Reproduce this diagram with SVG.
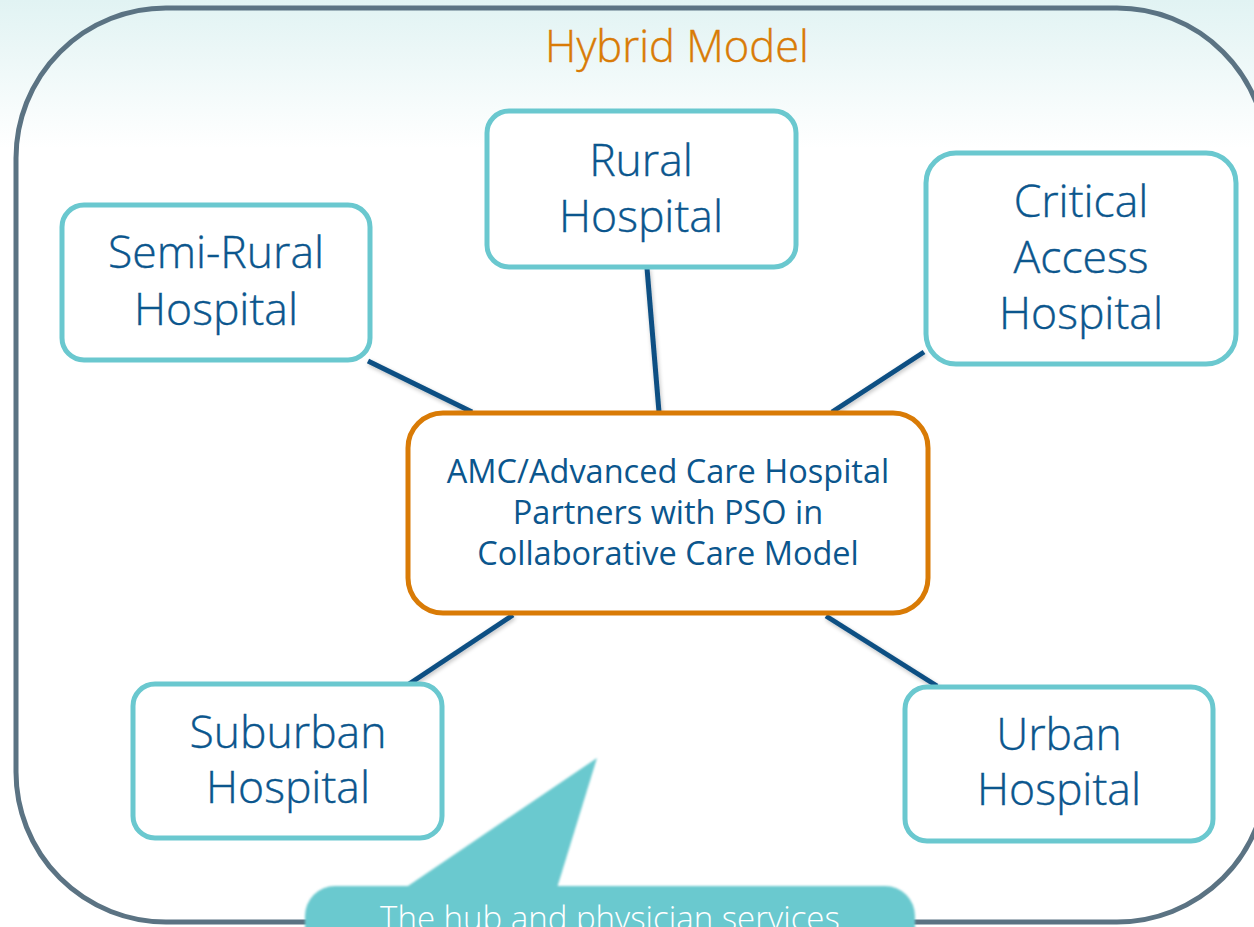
<svg xmlns="http://www.w3.org/2000/svg" width="1254" height="927" viewBox="0 0 1254 927">
  <defs>
    <linearGradient id="bg" x1="0" y1="0" x2="0" y2="1">
      <stop offset="0" stop-color="#e1f3f3"/>
      <stop offset="0.16" stop-color="#ffffff"/>
      <stop offset="1" stop-color="#ffffff"/>
    </linearGradient>
    <filter id="soft" x="-5%" y="-5%" width="110%" height="110%">
      <feGaussianBlur stdDeviation="0.8"/>
    </filter>
    <filter id="lshadow" x="-20%" y="-20%" width="140%" height="140%">
      <feGaussianBlur in="SourceAlpha" stdDeviation="2"/>
      <feOffset dx="1" dy="2" result="b"/>
      <feComponentTransfer><feFuncA type="linear" slope="0.25"/></feComponentTransfer>
      <feMerge><feMergeNode/><feMergeNode in="SourceGraphic"/></feMerge>
    </filter>
  </defs>
  <style>
    .node { fill: #ffffff; stroke: #6ac8cf; stroke-width: 5; }
    .hub { fill: #ffffff; stroke: #d97b06; stroke-width: 5; }
    .lbl { font-family: "Open Sans", "Liberation Sans", sans-serif; font-size: 44.5px; font-weight: 300; fill: #0b568d; text-anchor: middle; stroke: #0b568d; stroke-width: 0.4; }
    .hubl { font-family: "Open Sans", "Liberation Sans", sans-serif; font-size: 32.5px; fill: #0b568d; text-anchor: middle; }
    .conn { stroke: #0b4f83; stroke-width: 5; fill: none; }
    .title { font-family: "Open Sans", "Liberation Sans", sans-serif; font-size: 43.5px; font-weight: 300; fill: #d97b06; text-anchor: middle; stroke: #d97b06; stroke-width: 0.4; }
    .callt { font-family: "Open Sans", "Liberation Sans", sans-serif; font-size: 33px; font-weight: 300; fill: #ffffff; text-anchor: middle; }
  </style>

  <rect x="0" y="0" width="1254" height="927" fill="url(#bg)"/>

  <g id="frame">
    <rect x="16" y="8" width="1251" height="914" rx="150" ry="150" fill="none" stroke="#5b7383" stroke-width="5"/>
    <text class="title" x="677" y="62">Hybrid Model</text>
  </g>

  <g id="connectors" filter="url(#lshadow)">
    <line class="conn" x1="368" y1="361" x2="472" y2="412"/>
    <line class="conn" x1="647" y1="268" x2="659" y2="412"/>
    <line class="conn" x1="924" y1="352" x2="832" y2="412"/>
    <line class="conn" x1="513" y1="615" x2="409" y2="684"/>
    <line class="conn" x1="826" y1="616" x2="937" y2="686"/>
  </g>

  <g id="semi-rural">
    <rect class="node" x="62" y="205" width="308" height="155" rx="22"/>
    <text class="lbl" x="216" y="268">Semi-Rural</text>
    <text class="lbl" x="216" y="325">Hospital</text>
  </g>

  <g id="rural">
    <rect class="node" x="487" y="111" width="309" height="156" rx="22"/>
    <text class="lbl" x="641" y="176">Rural</text>
    <text class="lbl" x="641" y="232">Hospital</text>
  </g>

  <g id="critical-access">
    <rect class="node" x="926" y="153" width="310" height="211" rx="30"/>
    <text class="lbl" x="1081" y="217">Critical</text>
    <text class="lbl" x="1081" y="273">Access</text>
    <text class="lbl" x="1081" y="329">Hospital</text>
  </g>

  <g id="hub">
    <rect class="hub" x="408" y="413" width="520" height="200" rx="35"/>
    <text class="hubl" x="668" y="483">AMC/Advanced Care Hospital</text>
    <text class="hubl" x="668" y="524">Partners with PSO in</text>
    <text class="hubl" x="668" y="565">Collaborative Care Model</text>
  </g>

  <g id="suburban">
    <rect class="node" x="133" y="684" width="309" height="154" rx="22"/>
    <text class="lbl" x="288" y="748">Suburban</text>
    <text class="lbl" x="288" y="803">Hospital</text>
  </g>

  <g id="urban">
    <rect class="node" x="905" y="687" width="308" height="154" rx="22"/>
    <text class="lbl" x="1059" y="750">Urban</text>
    <text class="lbl" x="1059" y="805">Hospital</text>
  </g>

  <g id="callout">
    <g filter="url(#soft)" fill="#6bc9cf">
      <rect x="305" y="886" width="610" height="90" rx="30"/>
      <polygon points="405,888 597,758 557,888"/>
    </g>
    <text class="callt" x="610" y="930">The hub and physician services</text>
  </g>
</svg>
